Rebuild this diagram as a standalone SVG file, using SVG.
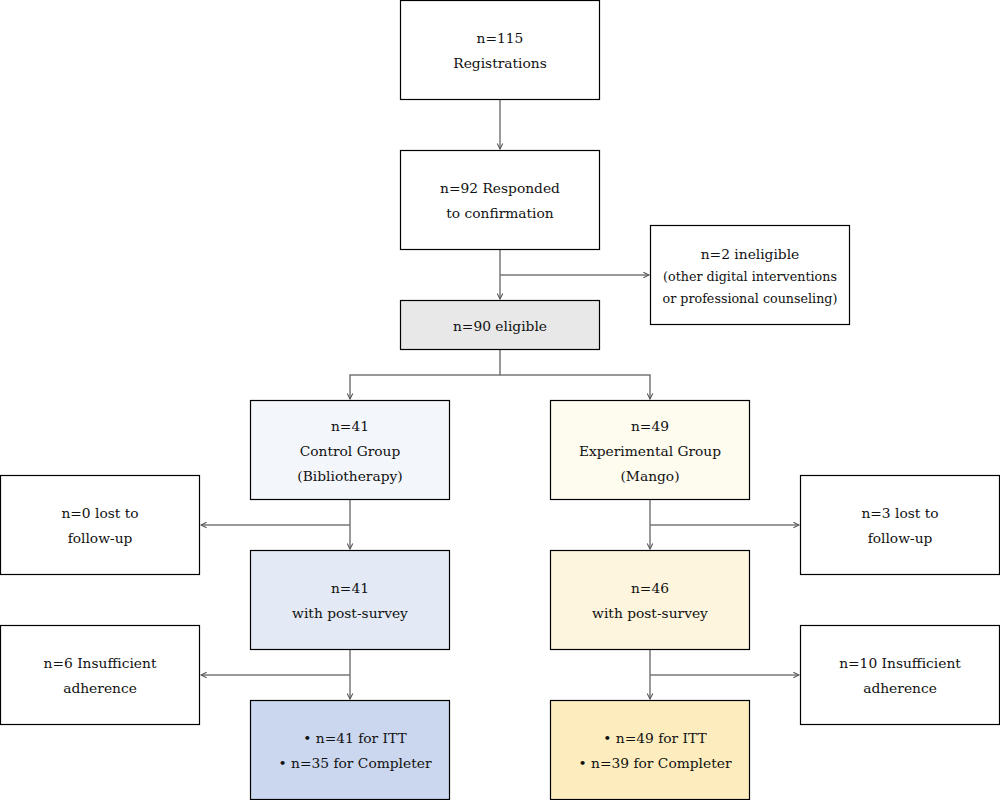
<svg xmlns="http://www.w3.org/2000/svg" width="1000" height="800" viewBox="0 0 1000 800">
<defs>
<marker id="arr" viewBox="0 0 10 10" refX="9" refY="5" markerWidth="7" markerHeight="7" orient="auto" markerUnits="userSpaceOnUse">
<path d="M1,1 L9,5 L1,9" fill="none" stroke="#555" stroke-width="1.5"/>
</marker>
</defs>
<style>
.box{stroke:#000;stroke-width:1.2}
text{font-family:"DejaVu Serif","Liberation Serif",serif;font-size:13.8px;fill:#111;text-anchor:middle;dominant-baseline:central}
.sm{font-size:12.7px}
.c{fill:none;stroke:#777;stroke-width:1.5}
</style>
<rect width="1000" height="800" fill="#fff"/>
<g id="connectors">
<path class="c" d="M500,100 V149" marker-end="url(#arr)"/>
<path class="c" d="M500,250 V299" marker-end="url(#arr)"/>
<path class="c" d="M500,275 H649" marker-end="url(#arr)"/>
<path class="c" d="M500,350 V375 H350 V399" marker-end="url(#arr)"/>
<path class="c" d="M500,375 H650 V399" marker-end="url(#arr)"/>
<path class="c" d="M350,500 V549" marker-end="url(#arr)"/>
<path class="c" d="M350,525 H201" marker-end="url(#arr)"/>
<path class="c" d="M650,500 V549" marker-end="url(#arr)"/>
<path class="c" d="M650,525 H799" marker-end="url(#arr)"/>
<path class="c" d="M350,650 V699" marker-end="url(#arr)"/>
<path class="c" d="M350,675 H201" marker-end="url(#arr)"/>
<path class="c" d="M650,650 V699" marker-end="url(#arr)"/>
<path class="c" d="M650,675 H799" marker-end="url(#arr)"/>
</g>
<g id="registrations"><rect class="box" x="400.5" y="0.5" width="199" height="99" fill="#fff"/><text x="500" y="38">n=115</text><text x="500" y="63">Registrations</text></g>
<g id="responded"><rect class="box" x="400.5" y="150.5" width="199" height="99" fill="#fff"/><text x="500" y="188">n=92 Responded</text><text x="500" y="213">to confirmation</text></g>
<g id="ineligible"><rect class="box" x="650.5" y="225.5" width="199" height="99" fill="#fff"/><text x="750" y="254">n=2 ineligible</text><text class="sm" x="750" y="276">(other digital interventions</text><text class="sm" x="750" y="298">or professional counseling)</text></g>
<g id="eligible"><rect class="box" x="400.5" y="300.5" width="199" height="49" fill="#e8e8e8"/><text x="500" y="326">n=90 eligible</text></g>
<g id="control"><rect class="box" x="250.5" y="400.5" width="199" height="99" fill="#f3f6fb"/><text x="350" y="426">n=41</text><text x="350" y="451">Control Group</text><text x="350" y="476">(Bibliotherapy)</text></g>
<g id="experimental"><rect class="box" x="550.5" y="400.5" width="199" height="99" fill="#fefbef"/><text x="650" y="426">n=49</text><text x="650" y="451">Experimental Group</text><text x="650" y="476">(Mango)</text></g>
<g id="lost-left"><rect class="box" x="0.5" y="475.5" width="199" height="99" fill="#fff"/><text x="100" y="513">n=0 lost to</text><text x="100" y="538">follow-up</text></g>
<g id="lost-right"><rect class="box" x="800.5" y="475.5" width="199" height="99" fill="#fff"/><text x="900" y="513">n=3 lost to</text><text x="900" y="538">follow-up</text></g>
<g id="post-left"><rect class="box" x="250.5" y="550.5" width="199" height="99" fill="#e3eaf6"/><text x="350" y="588">n=41</text><text x="350" y="613">with post-survey</text></g>
<g id="post-right"><rect class="box" x="550.5" y="550.5" width="199" height="99" fill="#fdf5dd"/><text x="650" y="588">n=46</text><text x="650" y="613">with post-survey</text></g>
<g id="adh-left"><rect class="box" x="0.5" y="625.5" width="199" height="99" fill="#fff"/><text x="100" y="663">n=6 Insufficient</text><text x="100" y="688">adherence</text></g>
<g id="adh-right"><rect class="box" x="800.5" y="625.5" width="199" height="99" fill="#fff"/><text x="900" y="663">n=10 Insufficient</text><text x="900" y="688">adherence</text></g>
<g id="final-left"><rect class="box" x="250.5" y="700.5" width="199" height="99" fill="#cbd7ee"/><text x="355" y="738">•  n=41 for ITT</text><text x="355" y="763">•  n=35 for Completer</text></g>
<g id="final-right"><rect class="box" x="550.5" y="700.5" width="199" height="99" fill="#fdedbe"/><text x="655" y="738">•  n=49 for ITT</text><text x="655" y="763">•  n=39 for Completer</text></g>
</svg>
